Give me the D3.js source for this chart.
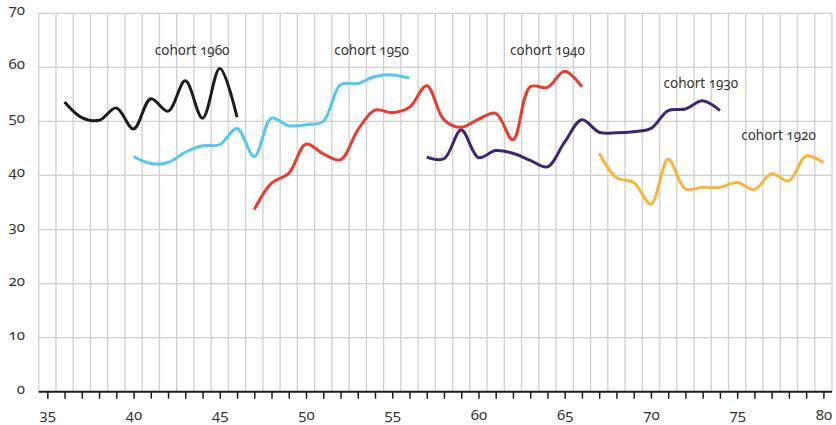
<!DOCTYPE html>
<html>
<head>
<meta charset="utf-8">
<script src="https://cdn.jsdelivr.net/npm/d3@7"></script>
<style>
  body { margin: 0; background: #fff; }
  svg text { font-family: "Noto Sans", "Open Sans", sans-serif; fill: #333; font-variant-numeric: oldstyle-nums; font-feature-settings: "onum" 1; }
</style>
</head>
<body>
<svg id="grafico" width="836" height="425"></svg>
<script>
// dati: percentuale per età, una serie per coorte
var coorti = ["cohort 1960", "cohort 1950", "cohort 1940", "cohort 1930", "cohort 1920"];

var eta1960 = [36, 37, 38, 39, 40, 41, 42, 43, 44, 45, 46];
var val1960 = [53.6, 50.7, 50.2, 52.5, 48.6, 54.2, 51.9, 57.5, 50.6, 59.8, 50.8];

var eta1950 = [40, 41, 42, 43, 44, 45, 46, 47, 48, 49, 50, 51, 52, 53, 54, 55, 56];
var val1950 = [43.5, 42.2, 42.4, 44.3, 45.5, 45.7, 48.7, 43.5, 50.6, 49.2, 49.4, 50.0, 56.8, 57.0, 58.3, 58.6, 58.0];

var eta1940 = [47, 48, 49, 50, 51, 52, 53, 54, 55, 56, 57, 58, 59, 60, 61, 62, 63, 64, 65, 66];
var val1940 = [33.7, 38.6, 40.4, 45.8, 44.0, 42.9, 48.4, 52.1, 51.6, 52.6, 56.6, 50.3, 48.9, 50.4, 51.5, 46.6, 56.4, 56.3, 59.3, 56.4];

var eta1930 = [57, 58, 59, 60, 61, 62, 63, 64, 65, 66, 67, 68, 69, 70, 71, 72, 73, 74];
var val1930 = [43.4, 43.1, 48.4, 43.3, 44.6, 44.1, 42.8, 41.6, 46.2, 50.3, 48.0, 47.9, 48.1, 48.7, 52.0, 52.3, 53.8, 52.0];

var eta1920 = [67, 68, 69, 70, 71, 72, 73, 74, 75, 76, 77, 78, 79, 80];
var val1920 = [44.1, 39.6, 38.7, 34.7, 43.0, 37.5, 37.8, 37.8, 38.7, 37.4, 40.3, 39.0, 43.6, 42.4];

var colori = ["#1d1d1b", "#52c8f2", "#ec3a2c", "#3e2673", "#fbb43a"];

// posizione etichette (età, valore)
var etichetteX = [43.4, 53.8, 64.0, 72.9, 77.4];
var etichetteY = [62.3, 62.3, 62.3, 56.2, 46.6];

var etaTick = d3.range(35, 81);
var valTick = [0, 10, 20, 30, 40, 50, 60, 70];

var serie = [
  {eta: eta1960, val: val1960},
  {eta: eta1950, val: val1950},
  {eta: eta1940, val: val1940},
  {eta: eta1930, val: val1930},
  {eta: eta1920, val: val1920}
];

// SCALE
var svg = d3.select("#grafico");

var x = d3.scaleLinear().domain([34.5, 80.5]).range([38.7, 832]);
var y = d3.scaleLinear().domain([0, 70]).range([391.7, 13.3]);

// griglia verticale (tra le età)
svg.append("g")
  .selectAll("line")
  .data(d3.range(34.5, 81, 1))
  .enter()
  .append("line")
  .attr("x1", d => x(d))
  .attr("x2", d => x(d))
  .attr("y1", y(70))
  .attr("y2", y(0))
  .attr("stroke", "#cfcfcf")
  .attr("stroke-width", 1.3);

// griglia orizzontale
svg.append("g")
  .selectAll("line")
  .data(valTick.slice(1))
  .enter()
  .append("line")
  .attr("x1", x(34.5))
  .attr("x2", x(80.5))
  .attr("y1", d => y(d))
  .attr("y2", d => y(d))
  .attr("stroke", "#cfcfcf")
  .attr("stroke-width", 1.3);

// asse x
var assex = svg.append("g")
  .attr("transform", "translate(0," + y(0) + ")")
  .call(d3.axisBottom(x)
    .tickValues(etaTick)
    .tickSize(7)
    .tickPadding(11)
    .tickFormat(d => d % 5 == 0 ? d : ""));

assex.select(".domain")
  .attr("d", "M" + x(34.5) + ",0H" + x(80.5))
  .attr("stroke", "#1d1d1b")
  .attr("stroke-width", 2);

assex.selectAll(".tick line").attr("stroke", "#1d1d1b").attr("stroke-width", 1.5);
assex.selectAll("text").style("font-size", "15px").attr("fill", "#333");

// asse y (solo etichette)
var assey = svg.append("g")
  .attr("transform", "translate(25,0)")
  .call(d3.axisLeft(y).tickValues(valTick).tickSize(0).tickPadding(0));

assey.select(".domain").remove();
assey.selectAll("text").style("font-size", "15px").attr("fill", "#333").attr("dy", "0.1em");

// LINEE
var linea = d3.line()
  .x(d => x(d[0]))
  .y(d => y(d[1]))
  .curve(d3.curveCatmullRom.alpha(0.5));

svg.append("g")
  .selectAll("path")
  .data(serie)
  .enter()
  .append("path")
  .attr("d", d => linea(d3.zip(d.eta, d.val)))
  .attr("fill", "none")
  .attr("stroke", (d, i) => colori[i])
  .attr("stroke-width", 3)
  .attr("stroke-linecap", "butt");

// ETICHETTE
svg.append("g")
  .selectAll("text")
  .data(coorti)
  .enter()
  .append("text")
  .attr("x", (d, i) => x(etichetteX[i]))
  .attr("y", (d, i) => y(etichetteY[i]))
  .attr("text-anchor", "middle")
  .style("font-size", "13.5px")
  .text(d => d);
</script>
</body>
</html>
